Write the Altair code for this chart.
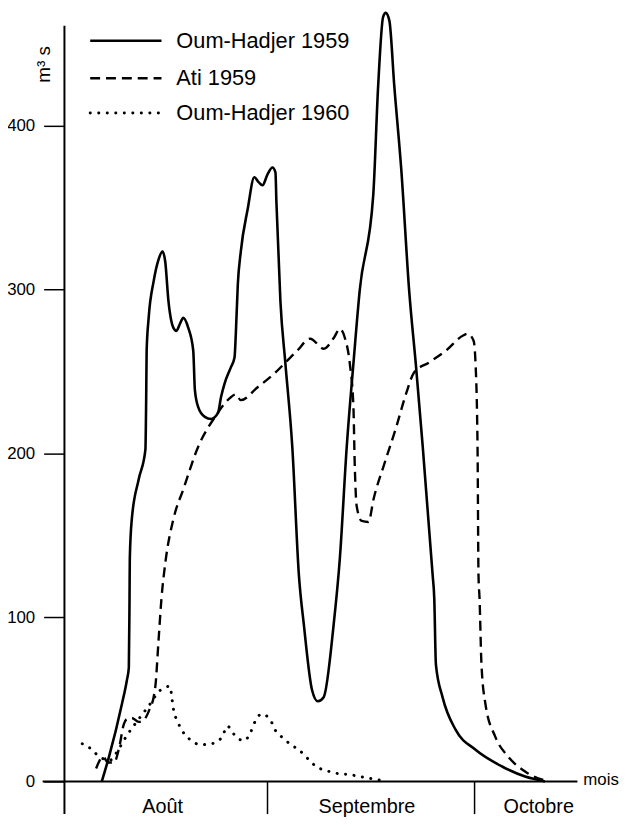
import altair as alt
import pandas as pd

series_names = ["Oum-Hadjer 1959", "Ati 1959", "Oum-Hadjer 1960"]

# day counted from 1 August (0 = 1 Aug), discharge in m3/s
oh59_day = [6.99, 8.04, 9.90, 10.62, 10.91, 11.01, 11.05, 11.34, 12.34, 13.31, 13.42, 13.49,
            13.78, 14.50, 15.21, 15.79, 16.18, 16.65, 17.37, 17.80, 18.37, 18.80, 19.52, 20.24,
            20.48, 20.96, 21.92, 22.82, 23.83, 24.26, 24.79, 25.69, 26.22, 26.41, 26.70, 27.13,
            28.13, 29.09, 29.71, 30.28, 31.00, 31.72, 32.15, 32.29, 32.87, 33.59, 34.59, 35.55,
            36.27, 37.46, 38.28, 39.14, 40.58, 41.48, 42.48, 43.45, 44.35, 46.32, 47.03, 47.75,
            48.13, 48.66, 49.37, 50.38, 51.53, 52.53, 53.49, 54.93, 55.16, 55.40, 56.36, 58.27,
            61.14, 64.98, 68.32, 71.19]
oh59_q = [0, 15.1, 47.1, 61.6, 69.5, 111.8, 136, 160, 184.3, 202.4, 232.6, 262.8,
          282.8, 305.1, 318.4, 323.3, 317.2, 293, 276.7, 274.9, 279.8, 282.8, 276.7, 262.8,
          238.7, 228.4, 222.4, 221.1, 224.8, 234.4, 242.9, 252.6, 258.6, 273.1, 303.3, 323.3,
          349.2, 368.6, 365.6, 363.7, 370.4, 374.6, 371.6, 353.5, 293, 255, 204.2, 125.7,
          95.5, 55.6, 48.9, 51.4, 95.5, 136, 204.2, 255, 299.1, 357.7, 424.2, 466.5,
          468.9, 464, 424.2, 373.4, 299.1, 252.6, 204.2, 125.7, 111.8, 71.3, 51.4, 31.4,
          19.3, 9.1, 3, 0]

ati59_day = [6.17, 7.18, 7.89, 8.76, 9.47, 10.19, 10.62, 11.34, 12.34, 13.20, 13.92, 14.50,
             14.78, 15.21, 15.64, 16.22, 17.37, 18.80, 20.96, 23.40, 25.69, 26.41, 27.13, 29.57,
             32.01, 34.30, 35.31, 37.17, 39.18, 40.62, 41.48, 42.20, 42.92, 43.45, 43.63, 43.92,
             44.64, 45.64, 46.36, 47.80, 49.66, 51.10, 52.24, 54.40, 56.84, 59.28, 60.00, 60.86,
             61.14, 61.43, 61.57, 61.72, 62.00, 62.58, 64.01, 65.88, 68.32, 71.62]
ati59_q = [7.9, 15.1, 11.5, 11.5, 19.9, 35, 38.1, 38.7, 36.3, 38.1, 44.1, 51.4,
           59.2, 85.8, 111.8, 134.1, 160.1, 178.2, 204.2, 222.4, 234.4, 236.2, 232.6, 240.5,
           248.9, 258.6, 262.8, 270.1, 264, 270.7, 276.1, 270.7, 255, 228.4, 194.6, 168,
           158.9, 158.3, 172.2, 192.1, 216.3, 236.9, 249.5, 255.6, 262.8, 271.9, 273.1, 268.9,
           255, 204.2, 125.7, 111.8, 71.3, 47.1, 27.2, 15.1, 6, 0]

oh60_day = [4.16, 5.60, 6.60, 8.20, 9.47, 10.62, 12.34, 13.78, 15.46, 16.89, 17.13, 17.37,
            17.94, 18.66, 19.81, 21.34, 22.92, 24.44, 25.16, 26.22, 27.51, 28.52, 29.09, 30.14,
            31.33, 32.11, 33.20, 34.40, 35.70, 36.84, 38.04, 39.51, 41.19, 42.77, 45.07, 47.51]
oh60_q = [23, 19.3, 15.1, 13, 20, 28, 38, 46, 55.6, 58, 51.4, 44.1,
          36.9, 30.8, 25.4, 22.4, 23, 27.2, 33.8, 28.4, 24.8, 29.6, 35.6, 41.1,
          38.1, 31.4, 26.6, 22.4, 18.7, 13.9, 9.1, 6.6, 4.8, 4.2, 2.4, 0.6]

months = ["Août", "Septembre", "Octobre"]
month_label_day = [15.8, 45.4, 70.3]
month_start_day = [31, 61]
y_ticks = [0, 100, 200, 300, 400]

W, H = 518, 763
FONT = "Liberation Sans"

xscale = alt.Scale(domain=[1.58, 75.9], nice=False, zero=False)
yscale = alt.Scale(domain=[0, 461], nice=False, zero=False)
yaxis = alt.Axis(values=y_ticks, tickSize=21, tickWidth=1.5, tickColor="black",
                 labelPadding=9, labelFontSize=17, labelFont=FONT, labelColor="black",
                 domain=False, grid=False, title=None)

styles = [
    dict(strokeWidth=2.6),
    dict(strokeWidth=2.4, strokeDash=[10, 6]),
    dict(strokeWidth=3, strokeDash=[0.1, 8.5], strokeCap="round"),
]
series_data = [(oh59_day, oh59_q), (ati59_day, ati59_q), (oh60_day, oh60_q)]

layers = []
for (d, q), st in zip(series_data, styles):
    df = pd.DataFrame({"day": d, "q": q})
    layers.append(
        alt.Chart(df).mark_line(color="black", interpolate="monotone", clip=False, **st).encode(
            x=alt.X("day:Q", scale=xscale, axis=None),
            y=alt.Y("q:Q", scale=yscale, axis=yaxis),
        )
    )

one = pd.DataFrame({"a": [0]})

# axis lines
layers.append(alt.Chart(one).mark_rule(color="black", strokeWidth=2).encode(
    x=alt.value(-22), x2=alt.value(W), y=alt.value(H)))
layers.append(alt.Chart(one).mark_rule(color="black", strokeWidth=2).encode(
    x=alt.value(0), y=alt.value(0), y2=alt.value(H + 33)))

# month separators and labels
sep_df = pd.DataFrame({"day": month_start_day})
layers.append(alt.Chart(sep_df).mark_rule(color="black", strokeWidth=1.5).encode(
    x=alt.X("day:Q", scale=xscale, axis=None), y=alt.value(H), y2=alt.value(H + 33)))
mon_df = pd.DataFrame({"day": month_label_day, "m": months})
layers.append(alt.Chart(mon_df).mark_text(font=FONT, fontSize=20, color="black",
                                          align="center", baseline="alphabetic").encode(
    x=alt.X("day:Q", scale=xscale, axis=None), y=alt.value(H + 32), text="m:N"))

# axis titles
layers.append(alt.Chart(pd.DataFrame({"t": ["mois"]})).mark_text(
    font=FONT, fontSize=17, color="black", align="left", baseline="middle").encode(
    x=alt.value(W + 6), y=alt.value(H - 1), text="t:N"))
layers.append(alt.Chart(pd.DataFrame({"t": ["m³ s"]})).mark_text(
    font=FONT, fontSize=19, color="black", align="center", baseline="middle", angle=270).encode(
    x=alt.value(-21), y=alt.value(39), text="t:N"))

# legend
leg_y = [15, 53, 88]
for name, st, ly in zip(series_names, styles, leg_y):
    ldf = pd.DataFrame({"name": [name]})
    layers.append(alt.Chart(ldf).mark_rule(color="black", **st).encode(
        x=alt.value(26), x2=alt.value(98), y=alt.value(ly)))
    layers.append(alt.Chart(ldf).mark_text(font=FONT, fontSize=22, color="black",
                                           align="left", baseline="middle").encode(
        x=alt.value(113), y=alt.value(ly), text="name:N"))

chart = alt.layer(*layers).properties(
    width=W, height=H,
    autosize=alt.AutoSizeParams(type="none"),
    padding={"left": 57, "top": 14, "right": 42, "bottom": 38},
).configure_view(stroke=None)

chart.save("out.html", embed_options={"renderer": "svg", "actions": False})
